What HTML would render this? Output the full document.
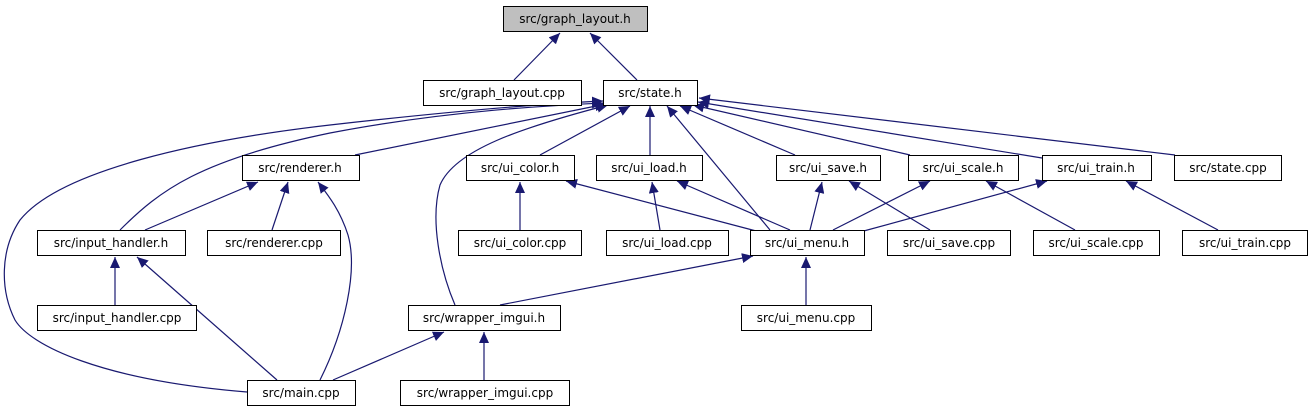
<!DOCTYPE html>
<html><head><meta charset="utf-8"><style>
html,body{margin:0;padding:0;background:#fff;}
svg{display:block;}
text{font-family:"DejaVu Sans","Liberation Sans",sans-serif;font-size:12px;fill:#000;}
</style></head><body>
<svg width="1311" height="411" viewBox="0 0 1311 411" xmlns="http://www.w3.org/2000/svg">
<defs>
<marker id="a" markerWidth="12" markerHeight="10" refX="11" refY="5" orient="auto" markerUnits="userSpaceOnUse">
<path d="M0,0 L11,5 L0,10 Z" fill="#191970"/>
</marker>
</defs>
<g fill="none" stroke="#191970" stroke-width="1.2" marker-end="url(#a)">
<path d="M514,80 L560,33"/>
<path d="M637,80 L590,33"/>
<path d="M355,155 L606,104"/>
<path d="M540,155 L630,106"/>
<path d="M650,155 L650,106"/>
<path d="M770,230 L667,106"/>
<path d="M795,155 L680,106"/>
<path d="M910,155 L693,105"/>
<path d="M1042,158 L698,102"/>
<path d="M1175,155 L699,98"/>
<path d="M120,230 C160,190 200,160 330,133 C450,110 560,105 603,103"/>
<path d="M247,392 C100,380 30,345 15,320 C0,290 0,250 20,220 C60,170 200,140 330,125 C480,108 560,103 603,101"/>
<path d="M455,305 C440,270 430,220 440,185 C455,150 520,128 608,105"/>
<path d="M145,230 L258,182"/>
<path d="M272,230 L288,182"/>
<path d="M320,380 C345,330 358,270 348,235 C340,210 328,195 318,182"/>
<path d="M520,230 L520,182"/>
<path d="M760,232 L566,181"/>
<path d="M660,230 L652,182"/>
<path d="M790,230 L677,181"/>
<path d="M810,230 L822,182"/>
<path d="M930,230 L849,181"/>
<path d="M833,230 L930,181"/>
<path d="M1075,230 L986,181"/>
<path d="M860,232 L1047,181"/>
<path d="M1218,230 L1126,181"/>
<path d="M115,305 L115,257"/>
<path d="M277,380 L137,257"/>
<path d="M500,305 L753,256"/>
<path d="M806,305 L806,257"/>
<path d="M333,380 L444,332"/>
<path d="M484,380 L484,332"/>
</g>
<g stroke="#000" stroke-width="1" fill="#fff">
<rect x="503.5" y="6.5" width="144" height="25" fill="#bfbfbf"/>
<rect x="423.5" y="80.5" width="158" height="25"/>
<rect x="603.5" y="80.5" width="94" height="25"/>
<rect x="242.5" y="155.5" width="117" height="25"/>
<rect x="466.5" y="155.5" width="108" height="25"/>
<rect x="596.5" y="155.5" width="106" height="25"/>
<rect x="776.5" y="155.5" width="104" height="25"/>
<rect x="908.5" y="155.5" width="110" height="25"/>
<rect x="1042.5" y="155.5" width="109" height="25"/>
<rect x="1174.5" y="155.5" width="107" height="25"/>
<rect x="37.5" y="230.5" width="148" height="25"/>
<rect x="207.5" y="230.5" width="133" height="25"/>
<rect x="458.5" y="230.5" width="123" height="25"/>
<rect x="606.5" y="230.5" width="122" height="25"/>
<rect x="750.5" y="230.5" width="114" height="25"/>
<rect x="887.5" y="230.5" width="123" height="25"/>
<rect x="1033.5" y="230.5" width="126" height="25"/>
<rect x="1182.5" y="230.5" width="125" height="25"/>
<rect x="37.5" y="305.5" width="159" height="25"/>
<rect x="408.5" y="305.5" width="152" height="25"/>
<rect x="741.5" y="305.5" width="130" height="25"/>
<rect x="247.5" y="380.5" width="108" height="25"/>
<rect x="400.5" y="380.5" width="169" height="25"/>
</g>
<g text-anchor="middle">
<text x="575" y="23">src/graph_layout.h</text>
<text x="502" y="97">src/graph_layout.cpp</text>
<text x="650" y="97">src/state.h</text>
<text x="300" y="172">src/renderer.h</text>
<text x="520" y="172">src/ui_color.h</text>
<text x="649" y="172">src/ui_load.h</text>
<text x="828" y="172">src/ui_save.h</text>
<text x="963" y="172">src/ui_scale.h</text>
<text x="1096" y="172">src/ui_train.h</text>
<text x="1228" y="172">src/state.cpp</text>
<text x="111" y="247">src/input_handler.h</text>
<text x="274" y="247">src/renderer.cpp</text>
<text x="520" y="247">src/ui_color.cpp</text>
<text x="667" y="247">src/ui_load.cpp</text>
<text x="807" y="247">src/ui_menu.h</text>
<text x="949" y="247">src/ui_save.cpp</text>
<text x="1096" y="247">src/ui_scale.cpp</text>
<text x="1245" y="247">src/ui_train.cpp</text>
<text x="117" y="322">src/input_handler.cpp</text>
<text x="484" y="322">src/wrapper_imgui.h</text>
<text x="806" y="322">src/ui_menu.cpp</text>
<text x="301" y="397">src/main.cpp</text>
<text x="485" y="397">src/wrapper_imgui.cpp</text>
</g>
</svg>
</body></html>
